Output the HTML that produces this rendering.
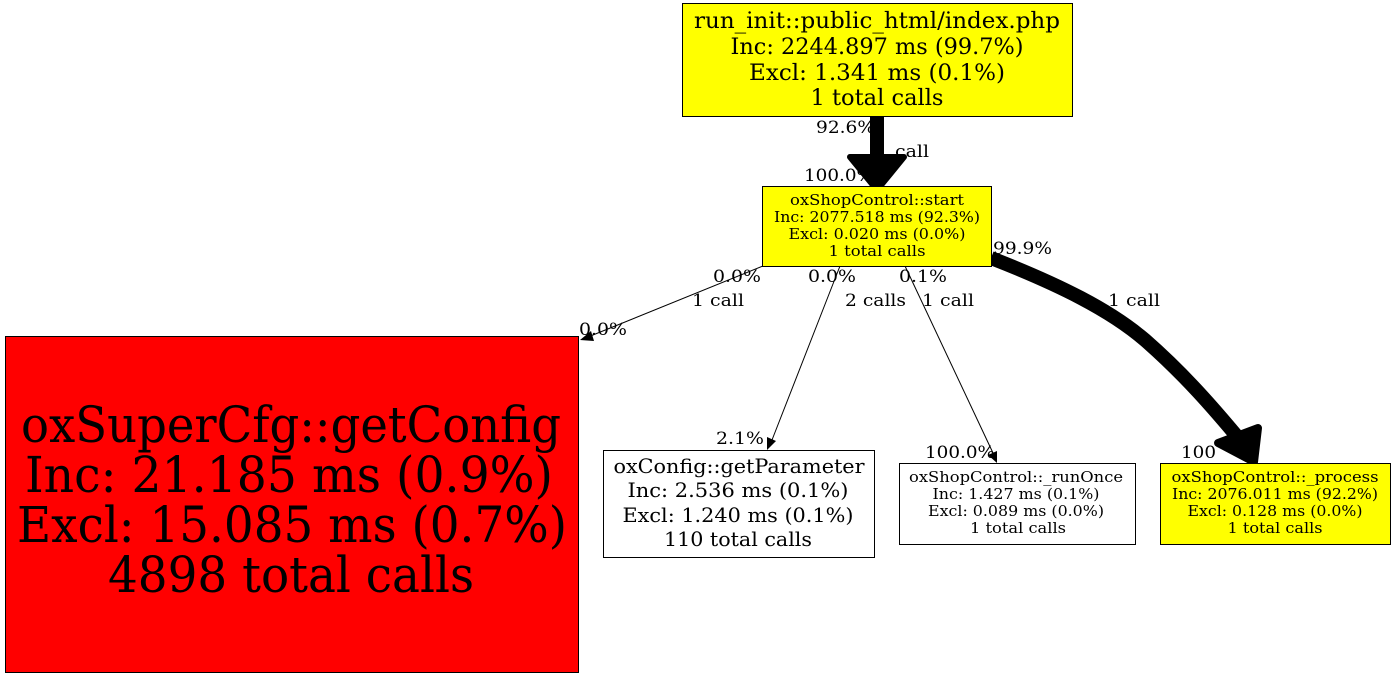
<!DOCTYPE html>
<html><head><meta charset="utf-8"><style>
html,body{margin:0;padding:0;background:#fff;}
svg{display:block;}
text{font-family:"DejaVu Serif","Liberation Serif",serif;}
</style></head><body>
<svg width="1396" height="677" viewBox="0 0 1396 677" xmlns="http://www.w3.org/2000/svg">
<rect width="1396" height="677" fill="#fff"/>
<!-- edge labels -->
<g font-size="17" fill="#000">
<text x="816" y="133" textLength="59" lengthAdjust="spacingAndGlyphs">92.6%</text>
<text x="895" y="157" textLength="34" lengthAdjust="spacingAndGlyphs">call</text>
<text x="804" y="181" textLength="70" lengthAdjust="spacingAndGlyphs">100.0%</text>
<text x="713" y="282" textLength="48" lengthAdjust="spacingAndGlyphs">0.0%</text>
<text x="692" y="306" textLength="52" lengthAdjust="spacingAndGlyphs">1 call</text>
<text x="579" y="335" textLength="48" lengthAdjust="spacingAndGlyphs">0.0%</text>
<text x="808" y="282" textLength="48" lengthAdjust="spacingAndGlyphs">0.0%</text>
<text x="845" y="306" textLength="61" lengthAdjust="spacingAndGlyphs">2 calls</text>
<text x="716" y="444" textLength="48" lengthAdjust="spacingAndGlyphs">2.1%</text>
<text x="899" y="282" textLength="48" lengthAdjust="spacingAndGlyphs">0.1%</text>
<text x="922" y="306" textLength="52" lengthAdjust="spacingAndGlyphs">1 call</text>
<text x="925" y="458" textLength="70" lengthAdjust="spacingAndGlyphs">100.0%</text>
<text x="993" y="254" textLength="59" lengthAdjust="spacingAndGlyphs">99.9%</text>
<text x="1108" y="306" textLength="52" lengthAdjust="spacingAndGlyphs">1 call</text>
<text x="1181" y="458" textLength="35" lengthAdjust="spacingAndGlyphs">100</text>
</g>
<!-- edges -->
<line x1="877" y1="116" x2="877" y2="158" stroke="#000" stroke-width="14"/>
<polygon points="850,157 904,157 877,190" fill="#000" stroke="#000" stroke-width="6" stroke-linejoin="round"/>
<line x1="763" y1="266" x2="588" y2="337" stroke="#000" stroke-width="1"/>
<polygon points="580,340 591,331 594,341" fill="#000"/>
<line x1="840" y1="266" x2="772" y2="440" stroke="#000" stroke-width="1"/>
<polygon points="767,450 767,437 776,441" fill="#000"/>
<line x1="905" y1="266" x2="993" y2="453" stroke="#000" stroke-width="1"/>
<polygon points="997,463 988,455 997,451" fill="#000"/>
<path d="M991,258 C1060,285 1110,310 1145,340 C1185,375 1215,410 1240,440" fill="none" stroke="#000" stroke-width="14"/>
<polygon points="1218,443 1258,428 1254,462" fill="#000" stroke="#000" stroke-width="8" stroke-linejoin="round"/>
<!-- nodes -->
<rect x="682.5" y="3.5" width="390" height="113" fill="#ff0" stroke="#000"/>
<g font-size="22" text-anchor="middle">
<text x="877" y="28" textLength="366" lengthAdjust="spacingAndGlyphs">run_init::public_html/index.php</text>
<text x="877" y="54" textLength="293" lengthAdjust="spacingAndGlyphs">Inc: 2244.897 ms (99.7%)</text>
<text x="877" y="80" textLength="256" lengthAdjust="spacingAndGlyphs">Excl: 1.341 ms (0.1%)</text>
<text x="877" y="105" textLength="133" lengthAdjust="spacingAndGlyphs">1 total calls</text>
</g>
<rect x="762.5" y="186.5" width="229" height="80" fill="#ff0" stroke="#000"/>
<g font-size="15" text-anchor="middle">
<text x="877" y="205" textLength="174" lengthAdjust="spacingAndGlyphs">oxShopControl::start</text>
<text x="877" y="222" textLength="206" lengthAdjust="spacingAndGlyphs">Inc: 2077.518 ms (92.3%)</text>
<text x="877" y="239" textLength="177" lengthAdjust="spacingAndGlyphs">Excl: 0.020 ms (0.0%)</text>
<text x="877" y="256" textLength="97" lengthAdjust="spacingAndGlyphs">1 total calls</text>
</g>
<rect x="5.5" y="336.5" width="573" height="336" fill="#f00" stroke="#000"/>
<g font-size="50" text-anchor="middle">
<text x="291" y="442" textLength="540" lengthAdjust="spacingAndGlyphs">oxSuperCfg::getConfig</text>
<text x="289" y="492" textLength="528" lengthAdjust="spacingAndGlyphs">Inc: 21.185 ms (0.9%)</text>
<text x="292" y="542" textLength="550" lengthAdjust="spacingAndGlyphs">Excl: 15.085 ms (0.7%)</text>
<text x="291" y="592" textLength="366" lengthAdjust="spacingAndGlyphs">4898 total calls</text>
</g>
<rect x="603.5" y="450.5" width="271" height="107" fill="#fff" stroke="#000"/>
<g font-size="20" text-anchor="middle">
<text x="739" y="473" textLength="251" lengthAdjust="spacingAndGlyphs">oxConfig::getParameter</text>
<text x="738" y="497" textLength="221" lengthAdjust="spacingAndGlyphs">Inc: 2.536 ms (0.1%)</text>
<text x="738" y="522" textLength="231" lengthAdjust="spacingAndGlyphs">Excl: 1.240 ms (0.1%)</text>
<text x="738" y="546" textLength="148" lengthAdjust="spacingAndGlyphs">110 total calls</text>
</g>
<rect x="899.5" y="463.5" width="236" height="81" fill="#fff" stroke="#000"/>
<g font-size="15" text-anchor="middle">
<text x="1016" y="482" textLength="214" lengthAdjust="spacingAndGlyphs">oxShopControl::_runOnce</text>
<text x="1016" y="499" textLength="167" lengthAdjust="spacingAndGlyphs">Inc: 1.427 ms (0.1%)</text>
<text x="1016" y="516" textLength="176" lengthAdjust="spacingAndGlyphs">Excl: 0.089 ms (0.0%)</text>
<text x="1018" y="533" textLength="96" lengthAdjust="spacingAndGlyphs">1 total calls</text>
</g>
<rect x="1160.5" y="463.5" width="230" height="81" fill="#ff0" stroke="#000"/>
<g font-size="15" text-anchor="middle">
<text x="1275" y="482" textLength="207" lengthAdjust="spacingAndGlyphs">oxShopControl::_process</text>
<text x="1275" y="499" textLength="206" lengthAdjust="spacingAndGlyphs">Inc: 2076.011 ms (92.2%)</text>
<text x="1275" y="516" textLength="175" lengthAdjust="spacingAndGlyphs">Excl: 0.128 ms (0.0%)</text>
<text x="1275" y="533" textLength="95" lengthAdjust="spacingAndGlyphs">1 total calls</text>
</g>
</svg>
</body></html>
